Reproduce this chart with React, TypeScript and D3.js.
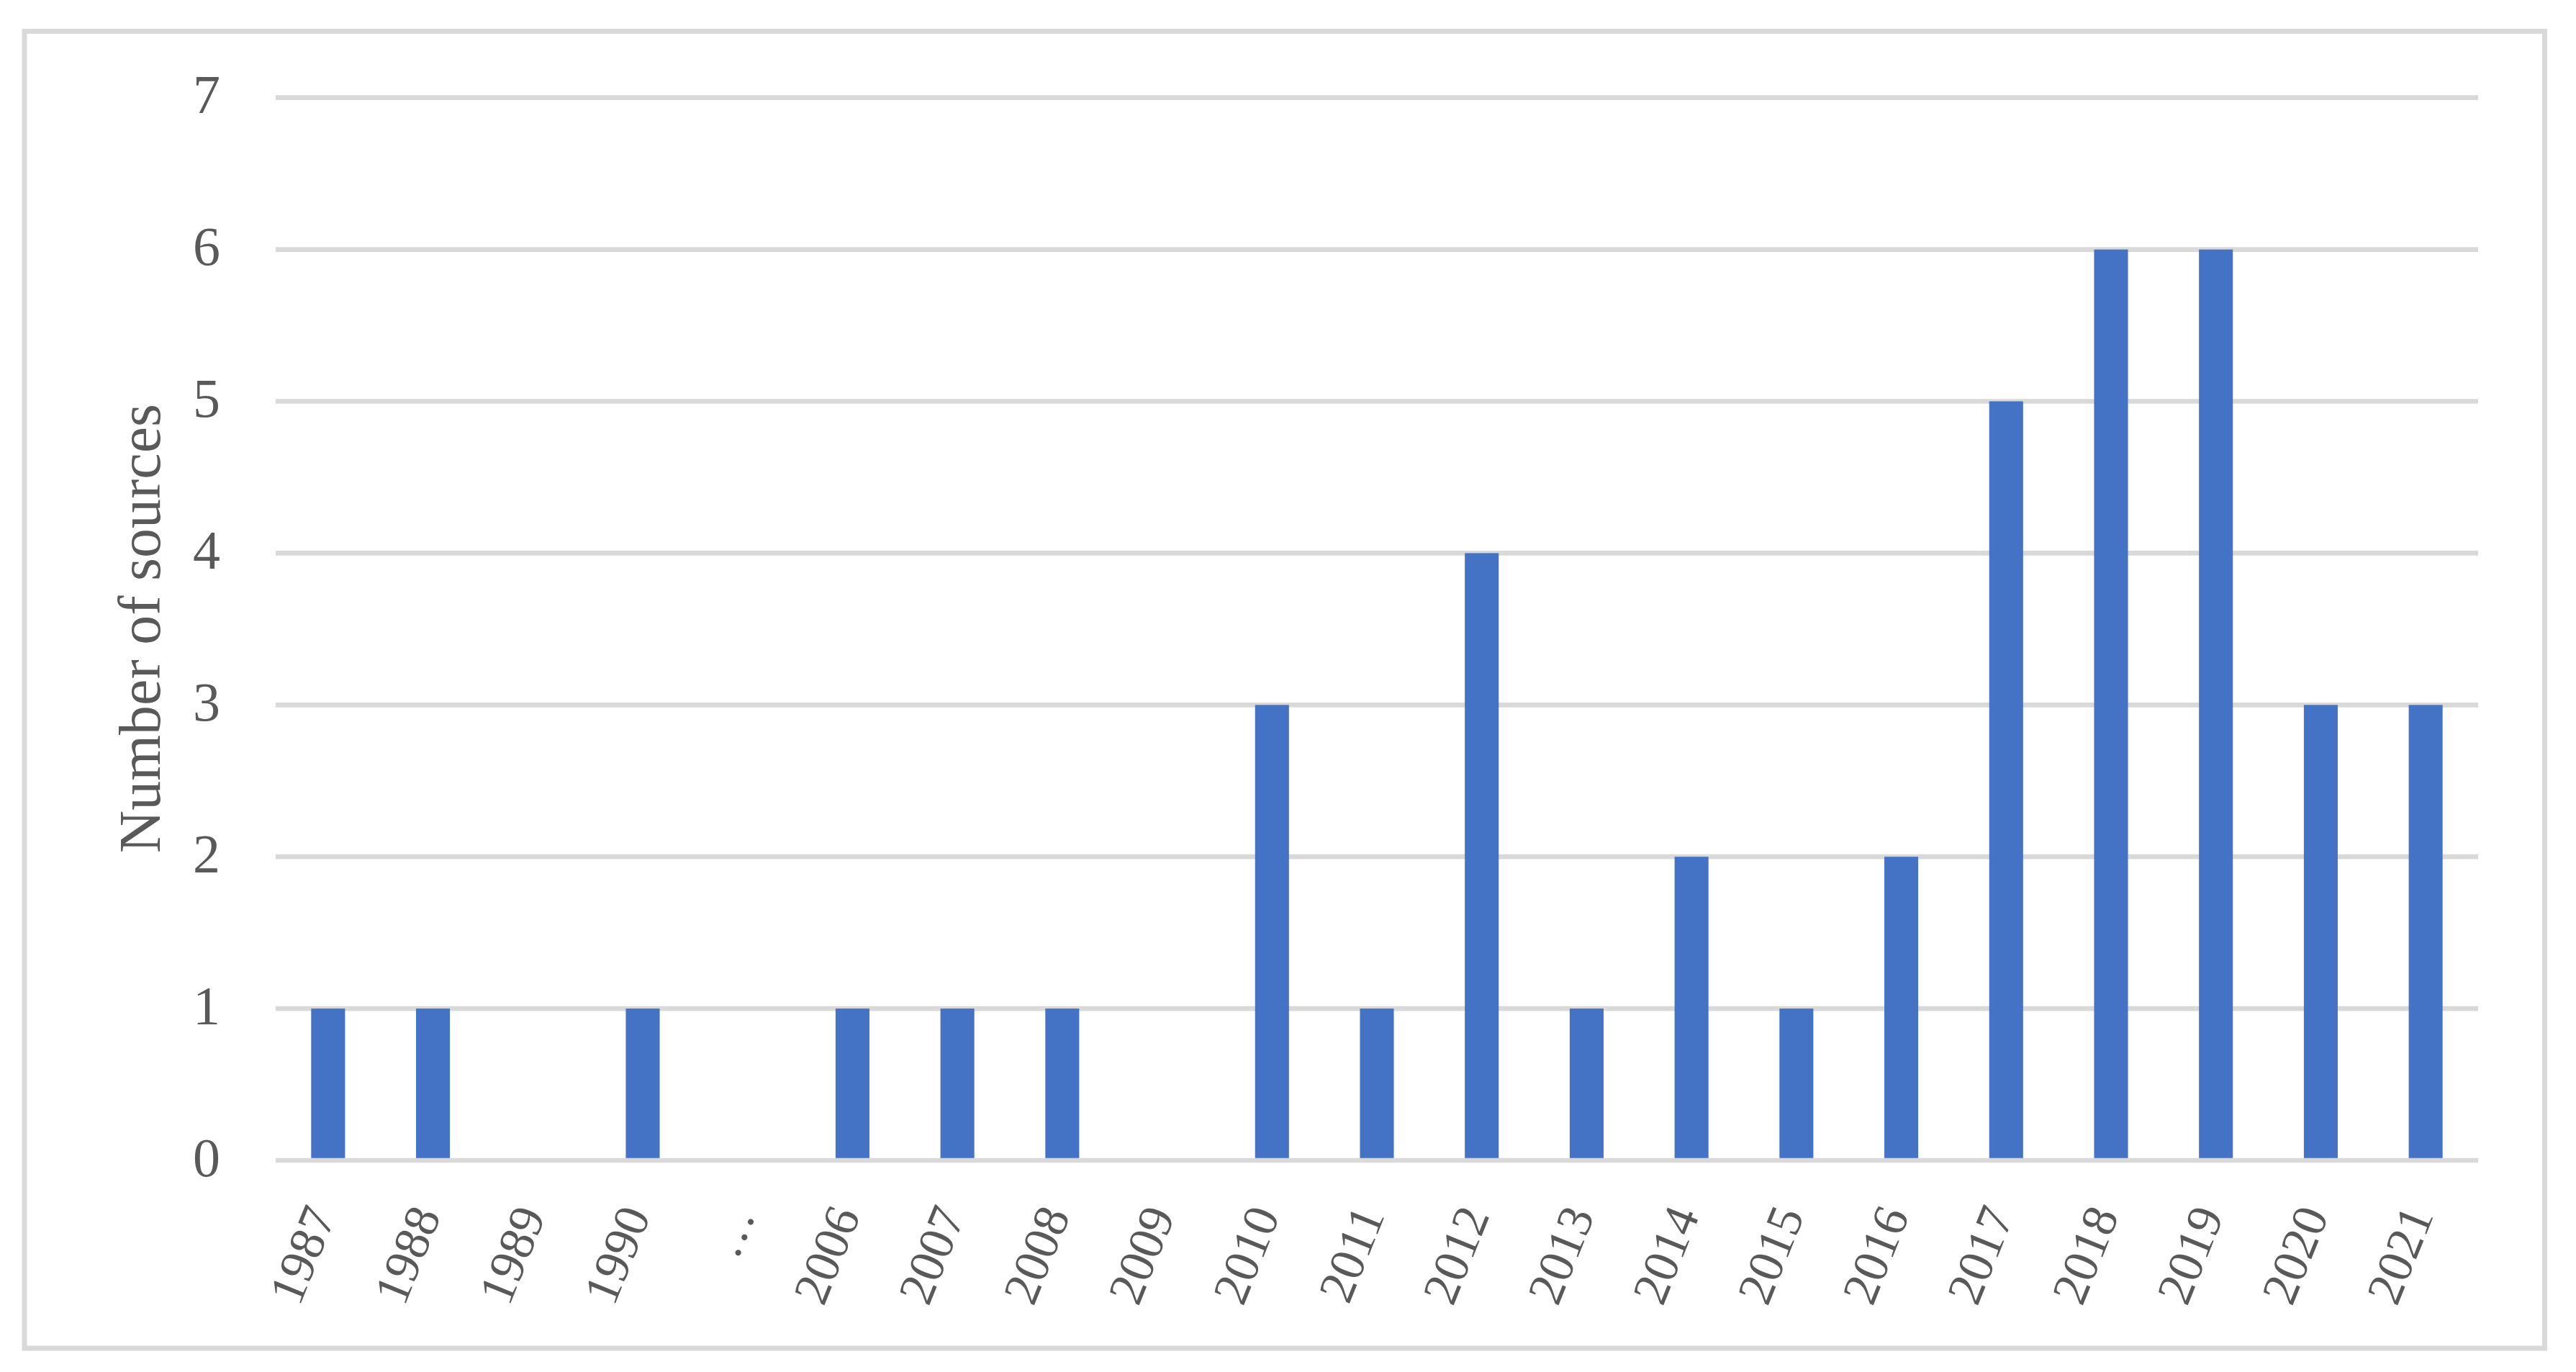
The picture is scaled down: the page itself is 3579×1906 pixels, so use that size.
import React from "react";
import * as d3 from "d3";

const categories: string[] = [
  "1987", "1988", "1989", "1990", "…", "2006", "2007", "2008", "2009", "2010",
  "2011", "2012", "2013", "2014", "2015", "2016", "2017", "2018", "2019", "2020", "2021",
];
const sources: number[] = [1, 1, 0, 1, 0, 1, 1, 1, 0, 3, 1, 4, 1, 2, 1, 2, 5, 6, 6, 3, 3];
const yTicks: number[] = [0, 1, 2, 3, 4, 5, 6, 7];
const yTitle = "Number of sources";

const W = 3579;
const H = 1906;
const plotLeft = 383;
const plotRight = 3443;
const plotTop = 135.7;
const plotBottom = 1612;

const FONT = "'Liberation Serif', 'DejaVu Serif', serif";
const TEXT = "#595959";
const GRID = "#D9D9D9";
const BAR = "#4472C4";

export default function App() {
  const x = d3
    .scaleBand<string>()
    .domain(categories)
    .range([plotLeft, plotRight])
    .paddingInner(0.677)
    .paddingOuter(0.3385);
  const y = d3.scaleLinear().domain([0, 7]).range([plotBottom, plotTop]);

  return (
    <svg
      width={W}
      height={H}
      style={{ position: "absolute", left: 0, top: 0, background: "#fff" }}
      fontFamily={FONT}
    >
      <rect x={0} y={0} width={W} height={H} fill="#fff" />
      <rect x={34} y={43.5} width={3535.5 - 34} height={1873 - 43.5} fill="none" stroke={GRID} strokeWidth={7} />
      {yTicks
        .filter((t) => t !== 0)
        .map((t) => (
          <line key={"g" + t} x1={plotLeft} x2={plotRight} y1={y(t)} y2={y(t)} stroke={GRID} strokeWidth={6.7} />
        ))}
      {categories.map((c, i) => (
        <rect
          key={"b" + c}
          x={x(c)}
          y={y(sources[i])}
          width={x.bandwidth()}
          height={y(0) - y(sources[i])}
          fill={BAR}
        />
      ))}
      <line x1={plotLeft} x2={plotRight} y1={y(0)} y2={y(0)} stroke={GRID} strokeWidth={6.7} />
      {yTicks.map((t) => (
        <text key={"t" + t} x={306} y={y(t) + 21.6} textAnchor="end" fontSize={76} fill={TEXT}>
          {t}
        </text>
      ))}
      {categories.map((c) => {
        const cx = (x(c) as number) + x.bandwidth() / 2;
        return (
          <text
            key={"l" + c}
            transform={`translate(${cx + 11.5},${1688}) rotate(-68)`}
            textAnchor="end"
            fontSize={69}
            fill={TEXT}
          >
            {c}
          </text>
        );
      })}
      <text transform={`translate(222,873) rotate(-90)`} textAnchor="middle" fontSize={82} fill={TEXT}>
        {yTitle}
      </text>
    </svg>
  );
}
